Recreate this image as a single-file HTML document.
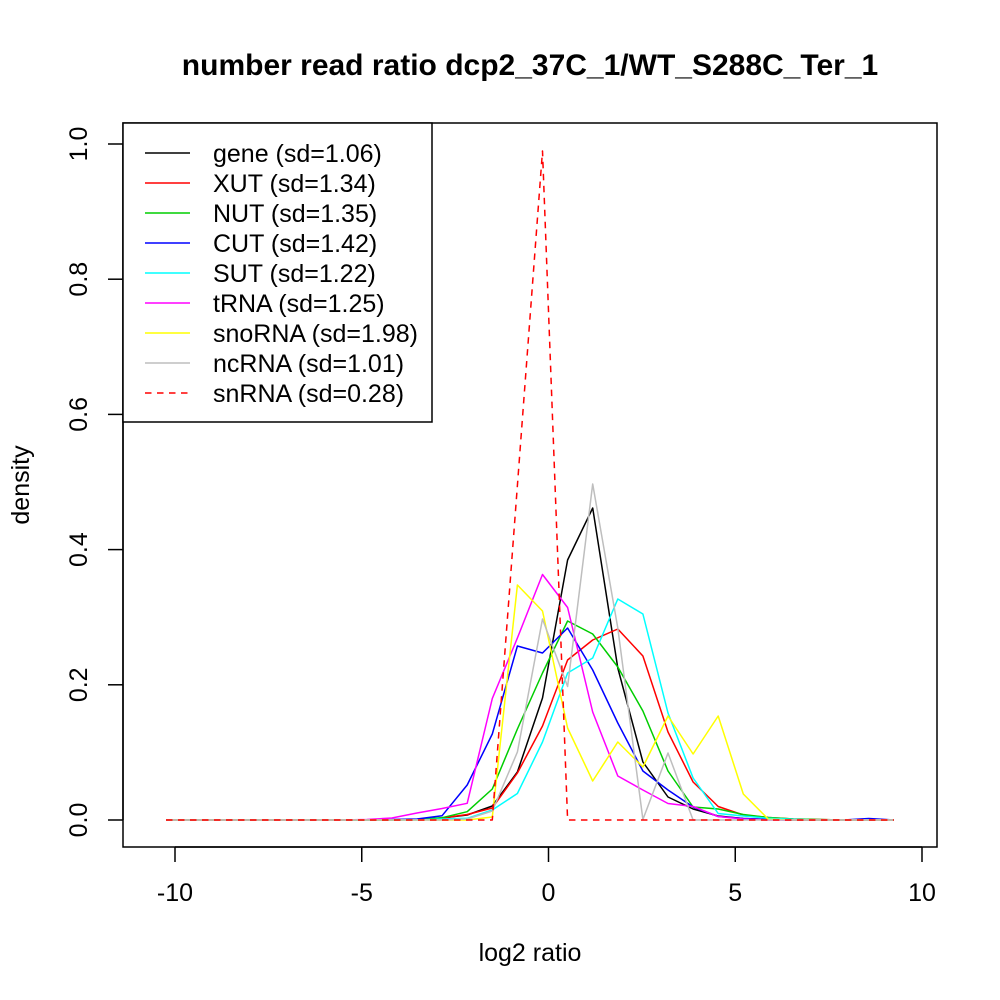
<!DOCTYPE html>
<html>
<head>
<meta charset="utf-8">
<style>
html,body{margin:0;padding:0;background:#fff;}
svg{display:block;}
text{font-family:"Liberation Sans",Arial,sans-serif;fill:#000;}
</style>
</head>
<body>
<svg width="1000" height="1000" viewBox="0 0 1000 1000" xmlns="http://www.w3.org/2000/svg">
<rect x="0" y="0" width="1000" height="1000" fill="#fff"/>
<!-- title -->
<text x="530" y="75" font-size="30" font-weight="bold" text-anchor="middle">number read ratio dcp2_37C_1/WT_S288C_Ter_1</text>

<!-- series -->
<g fill="none" stroke-width="1.5" stroke-linejoin="round">
<polyline stroke="#000000" points="166,820 191.1,820 216.2,820 241.3,820 266.4,820 291.5,820 316.6,820 341.7,820 366.8,820 391.9,820 417,819.5 442.1,818 467.2,815 492.3,806 517.4,772 542.5,698 567.6,560 592.7,508 617.8,668 642.9,762 668,797 693.1,809 718.2,816 743.3,818.5 768.4,819.5 793.5,820 818.6,820 843.7,820 868.8,820 893.9,820"/>
<polyline stroke="#FF0000" points="166,820 191.1,820 216.2,820 241.3,820 266.4,820 291.5,820 316.6,820 341.7,820 366.8,820 391.9,820 417,819.5 442.1,818 467.2,814.5 492.3,808 517.4,773 542.5,726 567.6,660 592.7,640 617.8,629 642.9,656 668,732 693.1,782 718.2,806.5 743.3,815 768.4,817.5 793.5,819 818.6,819.5 843.7,820 868.8,820 893.9,820"/>
<polyline stroke="#00CD00" points="166,820 191.1,820 216.2,820 241.3,820 266.4,820 291.5,820 316.6,820 341.7,820 366.8,820 391.9,820 417,819.5 442.1,817.7 467.2,811.7 492.3,789 517.4,729 542.5,673 567.6,621 592.7,634 617.8,667 642.9,711 668,771 693.1,807 718.2,809 743.3,814.5 768.4,817.5 793.5,819 818.6,819.5 843.7,820 868.8,820 893.9,820"/>
<polyline stroke="#0000FF" points="166,820 191.1,820 216.2,820 241.3,820 266.4,820 291.5,820 316.6,820 341.7,820 366.8,820 391.9,819.5 417,819 442.1,815.7 467.2,785 492.3,734 517.4,646 542.5,653 567.6,628 592.7,670 617.8,723 642.9,771 668,790 693.1,807 718.2,816.5 743.3,818.5 768.4,819.5 793.5,820 818.6,820 843.7,820 868.8,818.5 893.9,820"/>
<polyline stroke="#00FFFF" points="166,820 191.1,820 216.2,820 241.3,820 266.4,820 291.5,820 316.6,820 341.7,820 366.8,820 391.9,820 417,820 442.1,819 467.2,818.3 492.3,810 517.4,793.5 542.5,742 567.6,673 592.7,658 617.8,599 642.9,614 668,713 693.1,778 718.2,813.5 743.3,816 768.4,818.3 793.5,819.3 818.6,820 843.7,820 868.8,820 893.9,820"/>
<polyline stroke="#FF00FF" points="166,820 191.1,820 216.2,820 241.3,820 266.4,820 291.5,820 316.6,820 341.7,820 366.8,819.5 391.9,818 417,813 442.1,808.5 467.2,803.3 492.3,698.5 517.4,638 542.5,574.5 567.6,607.5 592.7,712 617.8,776 642.9,790 668,803.5 693.1,806.5 718.2,816.5 743.3,819 768.4,820 793.5,820 818.6,820 843.7,820 868.8,820 893.9,820"/>
<polyline stroke="#FFFF00" points="166,820 191.1,820 216.2,820 241.3,820 266.4,820 291.5,820 316.6,820 341.7,820 366.8,820 391.9,820 417,820 442.1,820 467.2,820 492.3,817 517.4,585 542.5,611 567.6,728 592.7,781 617.8,742 642.9,767 668,716 693.1,754 718.2,716 743.3,794 768.4,819.3 793.5,820 818.6,820 843.7,820 868.8,820 893.9,820"/>
<polyline stroke="#BEBEBE" points="166,820 191.1,820 216.2,820 241.3,820 266.4,820 291.5,820 316.6,820 341.7,820 366.8,820 391.9,820 417,820 442.1,820 467.2,819 492.3,811 517.4,752 542.5,619 567.6,686.5 592.7,484 617.8,628 642.9,819.5 668,753 693.1,820 718.2,820 743.3,820 768.4,820 793.5,820 818.6,820 843.7,820 868.8,820 893.9,820"/>
<polyline stroke="#FF0000" stroke-dasharray="6.5,5.5" points="166,820 191.1,820 216.2,820 241.3,820 266.4,820 291.5,820 316.6,820 341.7,820 366.8,820 391.9,820 417,820 442.1,820 467.2,820 492.3,820 517.4,485.5 542.5,151 567.6,820 592.7,820 617.8,820 642.9,820 668,820 693.1,820 718.2,820 743.3,820 768.4,820 793.5,820 818.6,820 843.7,820 868.8,820 893.9,820"/>
</g>

<!-- plot box -->
<rect x="123" y="123" width="814" height="724" fill="none" stroke="#000" stroke-width="1.5"/>

<!-- x axis -->
<g stroke="#000" stroke-width="1.5">
<line x1="175" y1="847" x2="922" y2="847"/>
<line x1="175" y1="847" x2="175" y2="862"/>
<line x1="361.75" y1="847" x2="361.75" y2="862"/>
<line x1="548.5" y1="847" x2="548.5" y2="862"/>
<line x1="735.25" y1="847" x2="735.25" y2="862"/>
<line x1="922" y1="847" x2="922" y2="862"/>
</g>
<g font-size="25" text-anchor="middle">
<text x="175" y="901">-10</text>
<text x="361.75" y="901">-5</text>
<text x="548.5" y="901">0</text>
<text x="735.25" y="901">5</text>
<text x="922" y="901">10</text>
</g>

<!-- y axis -->
<g stroke="#000" stroke-width="1.5">
<line x1="123" y1="144" x2="123" y2="820"/>
<line x1="108" y1="820" x2="123" y2="820"/>
<line x1="108" y1="684.8" x2="123" y2="684.8"/>
<line x1="108" y1="549.6" x2="123" y2="549.6"/>
<line x1="108" y1="414.4" x2="123" y2="414.4"/>
<line x1="108" y1="279.2" x2="123" y2="279.2"/>
<line x1="108" y1="144" x2="123" y2="144"/>
</g>
<g font-size="25" text-anchor="middle">
<text transform="translate(87,820) rotate(-90)">0.0</text>
<text transform="translate(87,684.8) rotate(-90)">0.2</text>
<text transform="translate(87,549.6) rotate(-90)">0.4</text>
<text transform="translate(87,414.4) rotate(-90)">0.6</text>
<text transform="translate(87,279.2) rotate(-90)">0.8</text>
<text transform="translate(87,144) rotate(-90)">1.0</text>
</g>

<!-- axis titles -->
<text x="530" y="961" font-size="25" text-anchor="middle">log2 ratio</text>
<text transform="translate(29,485) rotate(-90)" font-size="25" text-anchor="middle">density</text>

<!-- legend -->
<rect x="123" y="123" width="309" height="299" fill="#fff" stroke="#000" stroke-width="1.5"/>
<g stroke-width="1.5">
<line x1="145" y1="153" x2="190" y2="153" stroke="#000000"/>
<line x1="145" y1="183" x2="190" y2="183" stroke="#FF0000"/>
<line x1="145" y1="213" x2="190" y2="213" stroke="#00CD00"/>
<line x1="145" y1="243" x2="190" y2="243" stroke="#0000FF"/>
<line x1="145" y1="273" x2="190" y2="273" stroke="#00FFFF"/>
<line x1="145" y1="303" x2="190" y2="303" stroke="#FF00FF"/>
<line x1="145" y1="333" x2="190" y2="333" stroke="#FFFF00"/>
<line x1="145" y1="363" x2="190" y2="363" stroke="#BEBEBE"/>
<line x1="145" y1="393" x2="190" y2="393" stroke="#FF0000" stroke-dasharray="6.5,5.5"/>
</g>
<g font-size="25">
<text x="213" y="162">gene (sd=1.06)</text>
<text x="213" y="192">XUT (sd=1.34)</text>
<text x="213" y="222">NUT (sd=1.35)</text>
<text x="213" y="252">CUT (sd=1.42)</text>
<text x="213" y="282">SUT (sd=1.22)</text>
<text x="213" y="312">tRNA (sd=1.25)</text>
<text x="213" y="342">snoRNA (sd=1.98)</text>
<text x="213" y="372">ncRNA (sd=1.01)</text>
<text x="213" y="402">snRNA (sd=0.28)</text>
</g>
</svg>
</body>
</html>
